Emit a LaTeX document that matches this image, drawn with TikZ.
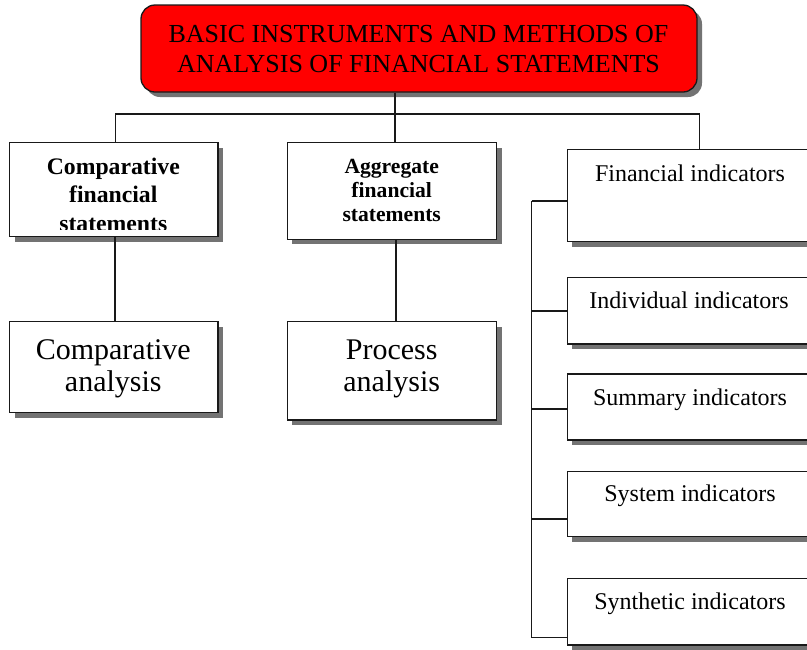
\documentclass[tikz,border=0pt]{standalone}
\usepackage{fontspec}
\setmainfont{Liberation Serif}
\usetikzlibrary{shadows}
\begin{document}
\begin{tikzpicture}[x=1pt,y=-1pt,
  framebox/.style={draw=black!90,line width=1.3pt,fill=white,rectangle,inner sep=0pt,
    drop shadow={shadow xshift=5pt,shadow yshift=-5pt,fill=black!55,opacity=1}},
  titlebox/.style={framebox,fill=red,rounded corners=14pt},
  wire/.style={draw=black!90,line width=1.2pt},
  label/.style={anchor=base,inner sep=0pt,align=center,text=black},
  titlefont/.style={font=\fontsize{26}{30.5}\selectfont},
  headfont/.style={font=\fontsize{23.7}{28.4}\selectfont\bfseries},
  smallhead/.style={font=\fontsize{21.6}{24.3}\selectfont\bfseries},
  bigfont/.style={font=\fontsize{30}{32.4}\selectfont},
  indfont/.style={font=\fontsize{24}{28}\selectfont}
]
\useasboundingbox (0,0) rectangle (807,649);
\clip (0,0) rectangle (807,649);

% boxes
\node[titlebox,minimum width=556pt,minimum height=87pt] (top) at (419,48.5) {};
\node[framebox,minimum width=208.5pt,minimum height=94pt] (cfs) at (113.75,189.7) {};
\node[framebox,minimum width=208.5pt,minimum height=91pt] (cana) at (113.75,367.2) {};
\node[framebox,minimum width=209.4pt,minimum height=96.6pt] (agg) at (392,191) {};
\node[framebox,minimum width=209.4pt,minimum height=98.3pt] (proc) at (392,370.85) {};
\node[framebox,minimum width=264.7pt,minimum height=92.4pt] (fin) at (699.65,195.5) {};
\node[framebox,minimum width=264.7pt,minimum height=66.7pt] (ind) at (699.65,310.65) {};
\node[framebox,minimum width=264.7pt,minimum height=66pt] (sum) at (699.65,407) {};
\node[framebox,minimum width=264.7pt,minimum height=65pt] (sys) at (699.65,504.2) {};
\node[framebox,minimum width=264.7pt,minimum height=66.7pt] (syn) at (699.65,611.65) {};

% connectors of the tree
\coordinate (bus) at (395,114);
\draw[wire] (top.south -| bus) -- (agg.north -| bus);
\draw[wire] ([xshift=2pt]cfs.north) |- (bus) -| (fin.north);
\draw[wire] ([xshift=1.3pt]cfs.south) -- ([xshift=1.3pt]cana.north);
\draw[wire] ([xshift=4pt]agg.south) -- ([xshift=4pt]proc.north);

% spine of the indicator list
\coordinate (s1) at (531.7,201);
\coordinate (s2) at (531.7,311);
\coordinate (s3) at (531.7,409);
\coordinate (s4) at (531.7,519);
\coordinate (s5) at (531.7,637.7);
\draw[wire] (s1) -- (s5);
\draw[wire] (s1) -- (s1 -| fin.west);
\draw[wire] (s2) -- (s2 -| ind.west);
\draw[wire] (s3) -- (s3 -| sum.west);
\draw[wire] (s4) -- (s4 -| sys.west);
\draw[wire] (s5) -- (s5 -| syn.west);

% texts (multi-line nodes sit on the baseline of their last line)
\node[label,titlefont] (ttop) at (418.5,72.7)
  {BASIC INSTRUMENTS AND METHODS OF\\ANALYSIS OF FINANCIAL STATEMENTS};
\begin{scope}
  \clip (cfs.north west) rectangle ([yshift=8pt]cfs.south east);
  \node[label,headfont] (tcfs) at (113.3,231.1) {Comparative\\financial\\statements};
\end{scope}
\node[label,smallhead] (tagg) at (391.7,221.7) {Aggregate\\financial\\statements};
\node[label,bigfont] (tcana) at (113.3,391.7) {Comparative\\analysis};
\node[label,bigfont] (tproc) at (391.7,391.7) {Process\\analysis};
\node[label,indfont] (tfin) at (690,181.7) {Financial indicators};
\node[label,indfont] (tind) at (689,308.3) {Individual indicators};
\node[label,indfont] (tsum) at (690,405) {Summary indicators};
\node[label,indfont] (tsys) at (690,501.7) {System indicators};
\node[label,indfont] (tsyn) at (690,609.3) {Synthetic indicators};
\end{tikzpicture}
\end{document}
